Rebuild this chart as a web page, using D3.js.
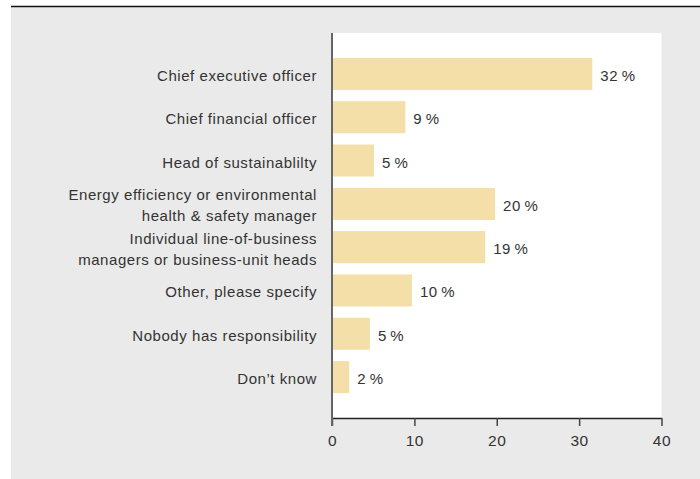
<!DOCTYPE html>
<html>
<head>
<meta charset="utf-8">
<script src="https://cdn.jsdelivr.net/npm/d3@7"></script>
<style>
	body { margin: 0; background: #fff; }
	text { font-family: 'Liberation Sans', Arial, sans-serif; fill: #333; letter-spacing: 0.55px; }
</style>
</head>
<body>
<div id="barchart"></div>
<script>
var categories = [
	['Chief executive officer'],
	['Chief financial officer'],
	['Head of sustainablilty'],
	['Energy efficiency or environmental', 'health & safety manager'],
	['Individual line-of-business', 'managers or business-unit heads'],
	['Other, please specify'],
	['Nobody has responsibility'],
	['Don\u2019t know']
];
var values = [31.6, 8.9, 5.1, 19.8, 18.6, 9.7, 4.6, 2.1];
var valueLabels = ['32', '9', '5', '20', '19', '10', '5', '2'];
var xTicks = [0, 10, 20, 30, 40];

var width = 700, height = 479;

var svg = d3.select('#barchart').append('svg')
	.attr('width', width)
	.attr('height', height);

// grey panel and top rule
svg.append('rect')
	.attr('x', 11).attr('y', 7)
	.attr('width', width - 11).attr('height', height - 7)
	.attr('fill', '#eaeaea');

svg.append('line')
	.attr('x1', 11).attr('x2', width)
	.attr('y1', 6.5).attr('y2', 6.5)
	.attr('stroke', '#111')
	.attr('stroke-width', 1.5);

var xScale = d3.scaleLinear()
	.domain([0, 40])
	.range([332, 661.5]);

var yScale = d3.scaleBand()
	.domain(d3.range(categories.length))
	.range([33, 418])
	.paddingInner(0.26)
	.paddingOuter(0.575);

// white plot area
svg.append('rect')
	.attr('x', xScale(0)).attr('y', 33)
	.attr('width', xScale(40) - xScale(0)).attr('height', 418 - 33)
	.attr('fill', '#fff');

var barsG = svg.append('g');

barsG.selectAll('rect')
	.data(values)
	.enter().append('rect')
	.attr('x', xScale(0))
	.attr('y', function(d, i) { return yScale(i); })
	.attr('width', function(d) { return xScale(d) - xScale(0); })
	.attr('height', yScale.bandwidth())
	.attr('fill', '#f3dfa7');

barsG.selectAll('text.value')
	.data(values)
	.enter().append('text')
	.attr('class', 'value')
	.attr('x', function(d) { return xScale(d) + 8; })
	.attr('y', function(d, i) { return yScale(i) + yScale.bandwidth() / 2 + 7; })
	.style('font-size', '15px')
	.text(function(d, i) { return valueLabels[i] + '\u2009%'; });

// category labels
var labelsG = svg.append('g');

categories.forEach(function(lines, i) {
	var cy = yScale(i) + yScale.bandwidth() / 2 + 7;
	var lineH = 21;
	var t = labelsG.append('text')
		.attr('text-anchor', 'end')
		.style('font-size', '15px');
	lines.forEach(function(line, j) {
		t.append('tspan')
			.attr('x', 317)
			.attr('y', cy + (j - (lines.length - 1) / 2) * lineH)
			.text(line);
	});
});

var xAxis = d3.axisBottom(xScale)
	.tickValues(xTicks)
	.tickSize(8)
	.tickPadding(9)
	.tickSizeOuter(0);

var xAxisG = svg.append('g')
	.attr('transform', 'translate(0,418)')
	.call(xAxis);

xAxisG.select('.domain').attr('stroke', '#222').attr('stroke-width', 1.5);
xAxisG.selectAll('.tick line').attr('stroke', '#444').attr('stroke-width', 1.5);
xAxisG.selectAll('.tick text')
	.style('font-size', '15.5px')
	.style('font-family', "'Liberation Sans', Arial, sans-serif")
	.attr('fill', '#333');

// vertical axis line
svg.append('line')
	.attr('x1', xScale(0)).attr('x2', xScale(0))
	.attr('y1', 33).attr('y2', 426)
	.attr('stroke', '#666')
	.attr('stroke-width', 2);
</script>
</body>
</html>
